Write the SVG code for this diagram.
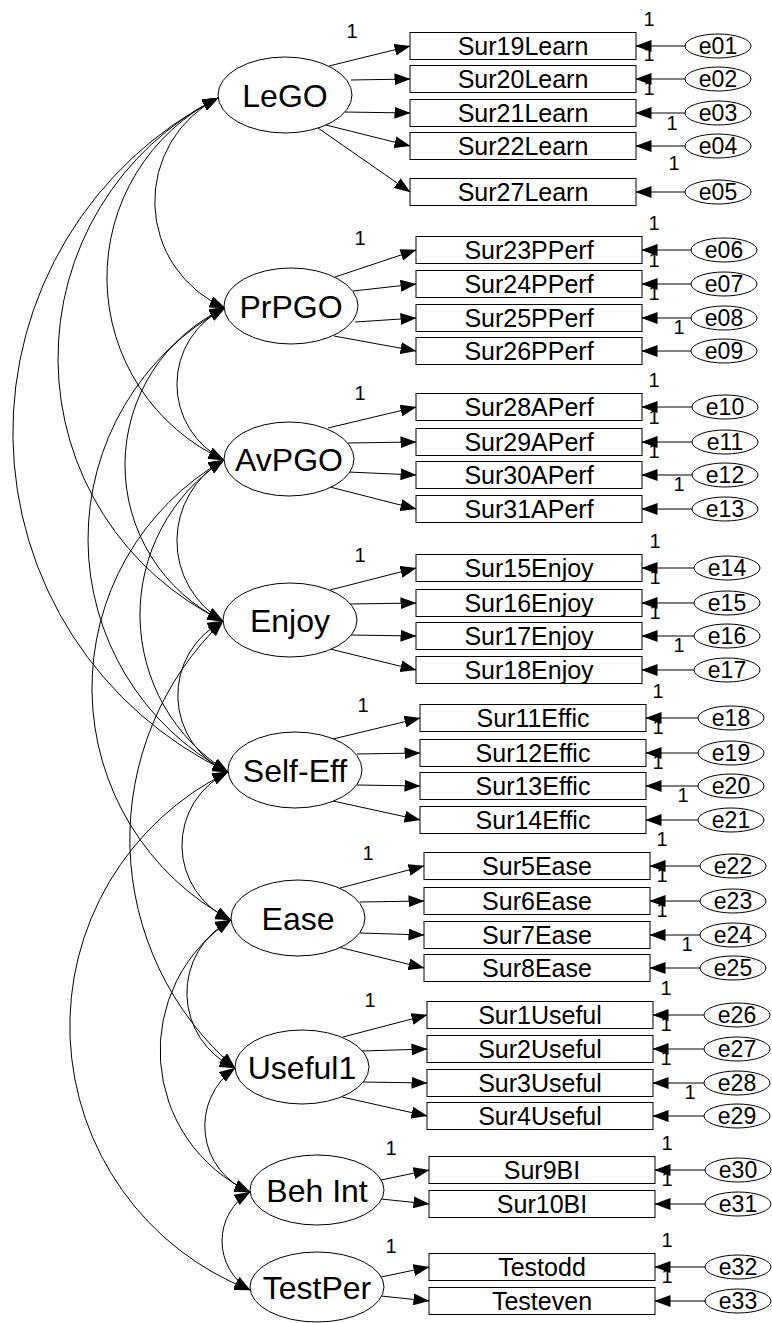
<svg xmlns="http://www.w3.org/2000/svg" width="772" height="1323" viewBox="0 0 772 1323">
<defs>
<marker id="ah" viewBox="0 0 16 12" refX="15.5" refY="6" markerWidth="16" markerHeight="12" markerUnits="userSpaceOnUse" orient="auto-start-reverse"><path d="M0,0 L16,6 L0,12 z" fill="#000"/></marker>
<style>
.lat{fill:#fff;stroke:#000;stroke-width:1}
.box{fill:#fff;stroke:#000;stroke-width:1}
.err{fill:#fff;stroke:#000;stroke-width:1}
text{font-family:"Liberation Sans",Arial,sans-serif;fill:#000;text-anchor:middle}
.tl{font-size:32px}
.tb{font-size:25px}
.te{font-size:23px}
.n{font-size:20px}
.p{fill:none;stroke:#000;stroke-width:1;marker-end:url(#ah)}
.c{fill:none;stroke:#000;stroke-width:1;marker-start:url(#ah);marker-end:url(#ah)}
</style>
</defs>
<rect width="772" height="1323" fill="#fff"/>

<g id="connectors">
<!-- covariances -->
<path class="c" d="M218,98 A116.1,116.1 0 0 0 225,308"/>
<path class="c" d="M218,98 A200.7,200.7 0 0 0 224,460"/>
<path class="c" d="M218,98 A291.7,291.7 0 0 0 223,621"/>
<path class="c" d="M218,98 A375.4,375.4 0 0 0 228,772"/>
<path class="c" d="M225,308 A84.5,84.5 0 0 0 224,460"/>
<path class="c" d="M225,308 A173.2,173.2 0 0 0 223,621"/>
<path class="c" d="M225,308 A263.6,263.6 0 0 0 228,772"/>
<path class="c" d="M224,460 A92.9,92.9 0 0 0 223,621"/>
<path class="c" d="M224,460 A184.5,184.5 0 0 0 228,772"/>
<path class="c" d="M224,460 A263,263 0 0 0 231,920"/>
<path class="c" d="M223,621 A83.7,83.7 0 0 0 228,772"/>
<path class="c" d="M223,621 A301.8,301.8 0 0 0 235,1068"/>
<path class="c" d="M228,772 A81.4,81.4 0 0 0 231,920"/>
<path class="c" d="M228,772 A283.3,283.3 0 0 0 250,1290"/>
<path class="c" d="M231,920 A82.5,82.5 0 0 0 235,1068"/>
<path class="c" d="M231,920 A156,156 0 0 0 250,1192"/>
<path class="c" d="M235,1068 A70.8,70.8 0 0 0 250,1192"/>
<path class="c" d="M250,1192 A56.9,56.9 0 0 0 250,1290"/>
<!-- loadings -->
<path class="p" d="M329,66 L410,46"/>
<path class="p" d="M351,80 L410,79"/>
<path class="p" d="M345,112 L410,113"/>
<path class="p" d="M326,125 L410,146"/>
<path class="p" d="M318,128 L410,192"/>
<path class="p" d="M335,277 L416,250"/>
<path class="p" d="M353,291 L416,284"/>
<path class="p" d="M355,322 L416,318"/>
<path class="p" d="M334,336 L416,351"/>
<path class="p" d="M328,428 L416,407"/>
<path class="p" d="M348,443 L416,442"/>
<path class="p" d="M348,472 L416,475"/>
<path class="p" d="M330,487 L416,509"/>
<path class="p" d="M330,590 L416,568"/>
<path class="p" d="M350,604 L416,603"/>
<path class="p" d="M350,635 L416,636"/>
<path class="p" d="M330,649 L416,670"/>
<path class="p" d="M333,739 L420,718"/>
<path class="p" d="M357,754 L420,753"/>
<path class="p" d="M357,785 L420,786"/>
<path class="p" d="M333,801 L420,820"/>
<path class="p" d="M340,888 L424,866"/>
<path class="p" d="M360,902 L424,901"/>
<path class="p" d="M360,933 L424,935"/>
<path class="p" d="M338,947 L424,968"/>
<path class="p" d="M343,1037 L427,1015"/>
<path class="p" d="M362,1051 L427,1049"/>
<path class="p" d="M362,1082 L427,1083"/>
<path class="p" d="M342,1097 L427,1116"/>
<path class="p" d="M381,1180 L429,1170"/>
<path class="p" d="M381,1199 L429,1204"/>
<path class="p" d="M381,1277 L429,1267"/>
<path class="p" d="M381,1296 L429,1301"/>
<!-- error paths -->
<path class="p" d="M685,46 L636,46"/>
<path class="p" d="M685,79 L636,79"/>
<path class="p" d="M685,113 L636,113"/>
<path class="p" d="M685,146 L636,146"/>
<path class="p" d="M685,192 L636,192"/>
<path class="p" d="M691,250 L642,250"/>
<path class="p" d="M691,284 L642,284"/>
<path class="p" d="M691,318 L642,318"/>
<path class="p" d="M691,351 L642,351"/>
<path class="p" d="M692,407 L642,407"/>
<path class="p" d="M692,442 L642,442"/>
<path class="p" d="M692,475 L642,475"/>
<path class="p" d="M692,509 L642,509"/>
<path class="p" d="M694,568 L642,568"/>
<path class="p" d="M694,603 L642,603"/>
<path class="p" d="M694,636 L642,636"/>
<path class="p" d="M694,670 L642,670"/>
<path class="p" d="M698,718 L646,718"/>
<path class="p" d="M698,753 L646,753"/>
<path class="p" d="M698,786 L646,786"/>
<path class="p" d="M698,820 L646,820"/>
<path class="p" d="M700,866 L650,866"/>
<path class="p" d="M700,901 L650,901"/>
<path class="p" d="M700,935 L650,935"/>
<path class="p" d="M700,968 L650,968"/>
<path class="p" d="M704,1015 L653,1015"/>
<path class="p" d="M704,1049 L653,1049"/>
<path class="p" d="M704,1083 L653,1083"/>
<path class="p" d="M704,1116 L653,1116"/>
<path class="p" d="M706,1170 L655,1170"/>
<path class="p" d="M706,1204 L655,1204"/>
<path class="p" d="M706,1267 L655,1267"/>
<path class="p" d="M706,1301 L655,1301"/>
</g>

<g id="labels-1">
<text class="n" x="352" y="38">1</text>
<text class="n" x="360" y="245">1</text>
<text class="n" x="360" y="400">1</text>
<text class="n" x="360" y="562">1</text>
<text class="n" x="363" y="712">1</text>
<text class="n" x="368" y="860">1</text>
<text class="n" x="370" y="1007">1</text>
<text class="n" x="391" y="1155">1</text>
<text class="n" x="391" y="1253">1</text>
<text class="n" x="649" y="26">1</text>
<text class="n" x="649" y="61">1</text>
<text class="n" x="649" y="95">1</text>
<text class="n" x="672" y="130">1</text>
<text class="n" x="674" y="170">1</text>
<text class="n" x="654" y="230">1</text>
<text class="n" x="654" y="267">1</text>
<text class="n" x="654" y="300">1</text>
<text class="n" x="679" y="334">1</text>
<text class="n" x="654" y="387">1</text>
<text class="n" x="654" y="424">1</text>
<text class="n" x="654" y="458">1</text>
<text class="n" x="679" y="491">1</text>
<text class="n" x="655" y="548">1</text>
<text class="n" x="655" y="584">1</text>
<text class="n" x="655" y="619">1</text>
<text class="n" x="679" y="652">1</text>
<text class="n" x="658" y="698">1</text>
<text class="n" x="658" y="734">1</text>
<text class="n" x="658" y="769">1</text>
<text class="n" x="683" y="802">1</text>
<text class="n" x="662" y="846">1</text>
<text class="n" x="662" y="882">1</text>
<text class="n" x="662" y="917">1</text>
<text class="n" x="687" y="951">1</text>
<text class="n" x="666" y="995">1</text>
<text class="n" x="666" y="1031">1</text>
<text class="n" x="666" y="1065">1</text>
<text class="n" x="690" y="1099">1</text>
<text class="n" x="667" y="1150">1</text>
<text class="n" x="667" y="1186">1</text>
<text class="n" x="667" y="1247">1</text>
<text class="n" x="667" y="1283">1</text>
</g>

<g id="LeGO"><ellipse class="lat" cx="285" cy="95" rx="67" ry="38"/><text class="tl" x="285" y="107">LeGO</text></g>
<g id="PrPGO"><ellipse class="lat" cx="291" cy="306" rx="67" ry="38"/><text class="tl" x="291" y="318">PrPGO</text></g>
<g id="AvPGO"><ellipse class="lat" cx="289" cy="459" rx="65" ry="37"/><text class="tl" x="289" y="471">AvPGO</text></g>
<g id="Enjoy"><ellipse class="lat" cx="290" cy="620" rx="67" ry="37"/><text class="tl" x="290" y="632">Enjoy</text></g>
<g id="SelfEff"><ellipse class="lat" cx="295" cy="770" rx="67" ry="38"/><text class="tl" x="295" y="782">Self-Eff</text></g>
<g id="Ease"><ellipse class="lat" cx="298" cy="918" rx="67" ry="38"/><text class="tl" x="298" y="930">Ease</text></g>
<g id="Useful1"><ellipse class="lat" cx="302" cy="1067" rx="67" ry="37"/><text class="tl" x="302" y="1079">Useful1</text></g>
<g id="BehInt"><ellipse class="lat" cx="317" cy="1190" rx="67" ry="35"/><text class="tl" x="317" y="1202">Beh Int</text></g>
<g id="TestPer"><ellipse class="lat" cx="317" cy="1287" rx="67" ry="35"/><text class="tl" x="317" y="1299">TestPer</text></g>

<g id="Sur19Learn"><rect class="box" x="410" y="32.5" width="226" height="27"/><text class="tb" x="523" y="55">Sur19Learn</text></g>
<g id="Sur20Learn"><rect class="box" x="410" y="65.5" width="226" height="27"/><text class="tb" x="523" y="88">Sur20Learn</text></g>
<g id="Sur21Learn"><rect class="box" x="410" y="99.5" width="226" height="27"/><text class="tb" x="523" y="122">Sur21Learn</text></g>
<g id="Sur22Learn"><rect class="box" x="410" y="132.5" width="226" height="27"/><text class="tb" x="523" y="155">Sur22Learn</text></g>
<g id="Sur27Learn"><rect class="box" x="410" y="178.5" width="226" height="27"/><text class="tb" x="523" y="201">Sur27Learn</text></g>
<g id="Sur23PPerf"><rect class="box" x="416" y="236.5" width="226" height="27"/><text class="tb" x="529" y="259">Sur23PPerf</text></g>
<g id="Sur24PPerf"><rect class="box" x="416" y="270.5" width="226" height="27"/><text class="tb" x="529" y="293">Sur24PPerf</text></g>
<g id="Sur25PPerf"><rect class="box" x="416" y="304.5" width="226" height="27"/><text class="tb" x="529" y="327">Sur25PPerf</text></g>
<g id="Sur26PPerf"><rect class="box" x="416" y="337.5" width="226" height="27"/><text class="tb" x="529" y="360">Sur26PPerf</text></g>
<g id="Sur28APerf"><rect class="box" x="416" y="393.5" width="226" height="27"/><text class="tb" x="529" y="416">Sur28APerf</text></g>
<g id="Sur29APerf"><rect class="box" x="416" y="428.5" width="226" height="27"/><text class="tb" x="529" y="451">Sur29APerf</text></g>
<g id="Sur30APerf"><rect class="box" x="416" y="461.5" width="226" height="27"/><text class="tb" x="529" y="484">Sur30APerf</text></g>
<g id="Sur31APerf"><rect class="box" x="416" y="495.5" width="226" height="27"/><text class="tb" x="529" y="518">Sur31APerf</text></g>
<g id="Sur15Enjoy"><rect class="box" x="416" y="554.5" width="226" height="27"/><text class="tb" x="529" y="577">Sur15Enjoy</text></g>
<g id="Sur16Enjoy"><rect class="box" x="416" y="589.5" width="226" height="27"/><text class="tb" x="529" y="612">Sur16Enjoy</text></g>
<g id="Sur17Enjoy"><rect class="box" x="416" y="622.5" width="226" height="27"/><text class="tb" x="529" y="645">Sur17Enjoy</text></g>
<g id="Sur18Enjoy"><rect class="box" x="416" y="656.5" width="226" height="27"/><text class="tb" x="529" y="679">Sur18Enjoy</text></g>
<g id="Sur11Effic"><rect class="box" x="420" y="704.5" width="226" height="27"/><text class="tb" x="533" y="727">Sur11Effic</text></g>
<g id="Sur12Effic"><rect class="box" x="420" y="739.5" width="226" height="27"/><text class="tb" x="533" y="762">Sur12Effic</text></g>
<g id="Sur13Effic"><rect class="box" x="420" y="772.5" width="226" height="27"/><text class="tb" x="533" y="795">Sur13Effic</text></g>
<g id="Sur14Effic"><rect class="box" x="420" y="806.5" width="226" height="27"/><text class="tb" x="533" y="829">Sur14Effic</text></g>
<g id="Sur5Ease"><rect class="box" x="424" y="852.5" width="226" height="27"/><text class="tb" x="537" y="875">Sur5Ease</text></g>
<g id="Sur6Ease"><rect class="box" x="424" y="887.5" width="226" height="27"/><text class="tb" x="537" y="910">Sur6Ease</text></g>
<g id="Sur7Ease"><rect class="box" x="424" y="921.5" width="226" height="27"/><text class="tb" x="537" y="944">Sur7Ease</text></g>
<g id="Sur8Ease"><rect class="box" x="424" y="954.5" width="226" height="27"/><text class="tb" x="537" y="977">Sur8Ease</text></g>
<g id="Sur1Useful"><rect class="box" x="427" y="1001.5" width="226" height="27"/><text class="tb" x="540" y="1024">Sur1Useful</text></g>
<g id="Sur2Useful"><rect class="box" x="427" y="1035.5" width="226" height="27"/><text class="tb" x="540" y="1058">Sur2Useful</text></g>
<g id="Sur3Useful"><rect class="box" x="427" y="1069.5" width="226" height="27"/><text class="tb" x="540" y="1092">Sur3Useful</text></g>
<g id="Sur4Useful"><rect class="box" x="427" y="1102.5" width="226" height="27"/><text class="tb" x="540" y="1125">Sur4Useful</text></g>
<g id="Sur9BI"><rect class="box" x="429" y="1156.5" width="226" height="27"/><text class="tb" x="542" y="1179">Sur9BI</text></g>
<g id="Sur10BI"><rect class="box" x="429" y="1190.5" width="226" height="27"/><text class="tb" x="542" y="1213">Sur10BI</text></g>
<g id="Testodd"><rect class="box" x="429" y="1253.5" width="226" height="27"/><text class="tb" x="542" y="1276">Testodd</text></g>
<g id="Testeven"><rect class="box" x="429" y="1287.5" width="226" height="27"/><text class="tb" x="542" y="1310">Testeven</text></g>

<g id="e01"><ellipse class="err" cx="718" cy="46" rx="33" ry="12"/><text class="te" x="718" y="54">e01</text></g>
<g id="e02"><ellipse class="err" cx="718" cy="79" rx="33" ry="12"/><text class="te" x="718" y="87">e02</text></g>
<g id="e03"><ellipse class="err" cx="718" cy="113" rx="33" ry="12"/><text class="te" x="718" y="121">e03</text></g>
<g id="e04"><ellipse class="err" cx="718" cy="146" rx="33" ry="12"/><text class="te" x="718" y="154">e04</text></g>
<g id="e05"><ellipse class="err" cx="718" cy="192" rx="33" ry="12"/><text class="te" x="718" y="200">e05</text></g>
<g id="e06"><ellipse class="err" cx="724" cy="250" rx="33" ry="12"/><text class="te" x="724" y="258">e06</text></g>
<g id="e07"><ellipse class="err" cx="724" cy="284" rx="33" ry="12"/><text class="te" x="724" y="292">e07</text></g>
<g id="e08"><ellipse class="err" cx="724" cy="318" rx="33" ry="12"/><text class="te" x="724" y="326">e08</text></g>
<g id="e09"><ellipse class="err" cx="724" cy="351" rx="33" ry="12"/><text class="te" x="724" y="359">e09</text></g>
<g id="e10"><ellipse class="err" cx="725" cy="407" rx="33" ry="12"/><text class="te" x="725" y="415">e10</text></g>
<g id="e11"><ellipse class="err" cx="725" cy="442" rx="33" ry="12"/><text class="te" x="725" y="450">e11</text></g>
<g id="e12"><ellipse class="err" cx="725" cy="475" rx="33" ry="12"/><text class="te" x="725" y="483">e12</text></g>
<g id="e13"><ellipse class="err" cx="725" cy="509" rx="33" ry="12"/><text class="te" x="725" y="517">e13</text></g>
<g id="e14"><ellipse class="err" cx="727" cy="568" rx="33" ry="12"/><text class="te" x="727" y="576">e14</text></g>
<g id="e15"><ellipse class="err" cx="727" cy="603" rx="33" ry="12"/><text class="te" x="727" y="611">e15</text></g>
<g id="e16"><ellipse class="err" cx="727" cy="636" rx="33" ry="12"/><text class="te" x="727" y="644">e16</text></g>
<g id="e17"><ellipse class="err" cx="727" cy="670" rx="33" ry="12"/><text class="te" x="727" y="678">e17</text></g>
<g id="e18"><ellipse class="err" cx="731" cy="718" rx="33" ry="12"/><text class="te" x="731" y="726">e18</text></g>
<g id="e19"><ellipse class="err" cx="731" cy="753" rx="33" ry="12"/><text class="te" x="731" y="761">e19</text></g>
<g id="e20"><ellipse class="err" cx="731" cy="786" rx="33" ry="12"/><text class="te" x="731" y="794">e20</text></g>
<g id="e21"><ellipse class="err" cx="731" cy="820" rx="33" ry="12"/><text class="te" x="731" y="828">e21</text></g>
<g id="e22"><ellipse class="err" cx="733" cy="866" rx="33" ry="12"/><text class="te" x="733" y="874">e22</text></g>
<g id="e23"><ellipse class="err" cx="733" cy="901" rx="33" ry="12"/><text class="te" x="733" y="909">e23</text></g>
<g id="e24"><ellipse class="err" cx="733" cy="935" rx="33" ry="12"/><text class="te" x="733" y="943">e24</text></g>
<g id="e25"><ellipse class="err" cx="733" cy="968" rx="33" ry="12"/><text class="te" x="733" y="976">e25</text></g>
<g id="e26"><ellipse class="err" cx="737" cy="1015" rx="33" ry="12"/><text class="te" x="737" y="1023">e26</text></g>
<g id="e27"><ellipse class="err" cx="737" cy="1049" rx="33" ry="12"/><text class="te" x="737" y="1057">e27</text></g>
<g id="e28"><ellipse class="err" cx="737" cy="1083" rx="33" ry="12"/><text class="te" x="737" y="1091">e28</text></g>
<g id="e29"><ellipse class="err" cx="737" cy="1116" rx="33" ry="12"/><text class="te" x="737" y="1124">e29</text></g>
<g id="e30"><ellipse class="err" cx="738" cy="1170" rx="33" ry="12"/><text class="te" x="738" y="1178">e30</text></g>
<g id="e31"><ellipse class="err" cx="738" cy="1204" rx="33" ry="12"/><text class="te" x="738" y="1212">e31</text></g>
<g id="e32"><ellipse class="err" cx="738" cy="1267" rx="33" ry="12"/><text class="te" x="738" y="1275">e32</text></g>
<g id="e33"><ellipse class="err" cx="738" cy="1301" rx="33" ry="12"/><text class="te" x="738" y="1309">e33</text></g>
</svg>
